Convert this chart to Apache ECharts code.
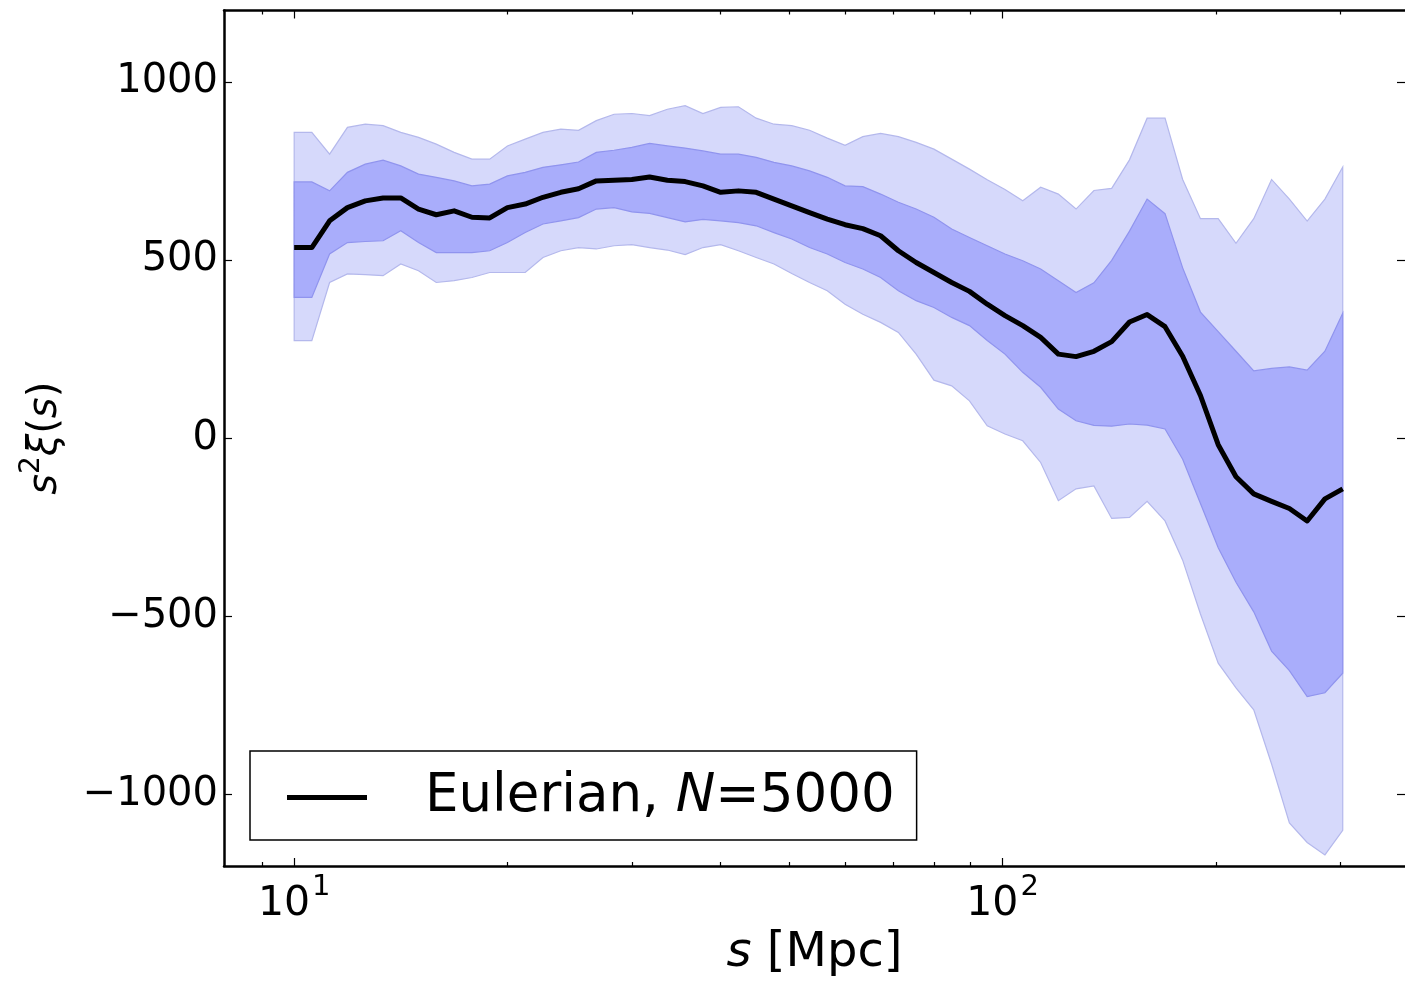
<!DOCTYPE html>
<html>
<head>
<meta charset="utf-8">
<script src="https://cdn.jsdelivr.net/npm/echarts@6/dist/echarts.min.js"></script>
<style>
html,body{margin:0;padding:0;background:#fff;}
#c{width:1405px;height:986px;}
</style>
</head>
<body>
<div id="c"></div>
<script>
// separations s [Mpc] (log-spaced bins)
const S = [10.00,10.59,11.22,11.89,12.60,13.35,14.14,14.98,15.87,16.82,
           17.82,18.88,20.00,21.19,22.45,23.79,25.20,26.70,28.29,29.97,
           31.75,33.64,35.64,37.76,40.00,42.38,44.90,47.57,50.40,53.40,
           56.57,59.94,63.50,67.28,71.28,75.52,80.01,84.77,89.81,95.15,
           100.8,106.8,113.2,119.9,127.0,134.6,142.6,151.1,160.0,169.6,
           179.6,190.3,201.6,213.6,226.3,239.8,254.1,269.2,285.2,302.2];
// mean s^2 xi(s)
const MEAN = [535,535,610,647,666,674,674,643,627,638,
              620,618,647,657,676,690,700,722,724,726,
              733,724,720,708,690,694,690,671,652,633,
              615,599,588,568,526,493,465,437,412,376,
              344,316,283,236,229,244,271,326,347,313,
              230,120,-18,-108,-156,-177,-197,-232,-170,-142];
// inner band (1 sigma)
const IN_HI = [719,719,694,746,769,780,764,741,732,722,
               708,713,736,746,760,767,775,802,808,816,
               827,820,814,806,797,797,788,774,764,750,
               732,708,706,685,662,643,620,587,563,540,
               517,498,475,442,409,436,499,581,671,630,
               478,354,299,244,189,196,200,191,244,351];
const IN_LO = [395,395,517,549,552,554,582,549,521,521,
               521,526,549,577,601,610,619,643,647,635,
               631,619,607,614,610,605,596,577,559,535,
               517,493,475,451,414,386,367,339,316,274,
               236,185,143,82,49,36,34,40,37,26,
               -59,-183,-307,-404,-487,-597,-652,-725,-714,-659];
// outer band (2 sigma)
const OUT_HI = [858,858,797,872,881,877,858,844,825,802,
                783,783,820,839,858,867,864,891,909,911,
                905,923,933,911,928,930,898,881,877,864,
                842,822,846,855,846,830,811,783,755,725,
                698,666,704,685,643,695,701,781,898,898,
                726,616,616,547,616,726,671,609,671,761];
const OUT_LO = [274,274,437,461,459,456,489,470,437,442,
                451,465,465,465,507,526,535,531,540,543,
                535,528,515,535,543,526,507,489,462,437,
                414,376,348,325,297,236,163,147,105,35,
                12,-7,-68,-175,-142,-134,-225,-222,-177,-232,
                -342,-493,-631,-700,-762,-914,-1079,-1134,-1169,-1100];

const X_MAJOR = [10, 100];
const X_MINOR = [9, 20, 30, 40, 50, 60, 70, 80, 90, 200, 300];
const Y_TICKS = [-1000, -500, 0, 500, 1000];
const SERIES_NAME = 'Eulerian, N=5000';

const FONT = 'DejaVu Sans';
const X_MIN = 7.96, X_MAX = 370;

function bandData(lo, hi) {
  return S.map((s, i) => [s, lo[i], hi[i]]);
}
function bandRender(fill, stroke) {
  return function (params, api) {
    if (params.dataIndexInside !== 0) return null;
    const n = params.dataInsideLength;
    const up = [], down = [];
    for (let i = 0; i < n; i++) {
      const s = api.value(0, i);
      up.push(api.coord([s, api.value(2, i)]));
      down.push(api.coord([s, api.value(1, i)]));
    }
    const pts = up.concat(down.reverse());
    return {
      type: 'polygon',
      shape: { points: pts },
      style: { fill: fill, stroke: stroke, lineWidth: 1.2 }
    };
  };
}

function xLabel(v) {
  const e = Math.round(Math.log10(v));
  if (Math.abs(Math.pow(10, e) - v) > 1e-6 * v) return '';
  return '{b|10}{s|' + e + '}';
}
const xRich = {
  b: { fontFamily: FONT, fontSize: 41, color: '#000', lineHeight: 63 },
  s: { fontFamily: FONT, fontSize: 29, color: '#000', verticalAlign: 'top', padding: [0, 0, 0, 2] }
};

function xAxisDef(pos, ticks, len, showLine, showLabel) {
  return {
    type: 'log', position: pos, min: X_MIN, max: X_MAX, logBase: 10,
    axisLine: { show: showLine, onZero: false, lineStyle: { color: '#000', width: 2.5 } },
    axisTick: { show: true, inside: true, length: len, customValues: ticks, lineStyle: { color: '#000', width: 1.2 } },
    minorTick: { show: false },
    axisLabel: showLabel ? {
      show: true, customValues: X_MAJOR, formatter: xLabel, margin: 7, rich: xRich
    } : { show: false },
    splitLine: { show: false },
    name: (pos === 'bottom' && showLabel) ? '{i|s}{n| [Mpc]}' : '',
    nameLocation: 'middle', nameGap: 64,
    nameTextStyle: {
      rich: {
        i: { fontFamily: FONT, fontSize: 48, fontStyle: 'italic', color: '#000' },
        n: { fontFamily: FONT, fontSize: 48, color: '#000' }
      }
    }
  };
}

function yAxisDef(pos, showLabel) {
  return {
    type: 'value', position: pos, min: -1200, max: 1200,
    axisLine: { show: showLabel, onZero: false, lineStyle: { color: '#000', width: 2.5 } },
    axisTick: { show: true, inside: true, length: 8, customValues: Y_TICKS, lineStyle: { color: '#000', width: 1.2 } },
    axisLabel: showLabel ? {
      show: true, customValues: Y_TICKS, margin: 6,
      fontFamily: FONT, fontSize: 40, color: '#000',
      formatter: v => (v < 0 ? '\u2212' + Math.abs(v) : String(v))
    } : { show: false },
    splitLine: { show: false },
    name: showLabel ? '{i|s}{p|2}{i|ξ}{n|(}{i|s}{n|)}' : '',
    nameLocation: 'middle', nameGap: 150, nameRotate: 90,
    nameTextStyle: {
      rich: {
        i: { fontFamily: FONT, fontSize: 40, fontStyle: 'italic', color: '#000', lineHeight: 56 },
        n: { fontFamily: FONT, fontSize: 40, color: '#000', lineHeight: 56 },
        p: { fontFamily: FONT, fontSize: 28, color: '#000', verticalAlign: 'top' }
      }
    }
  };
}

const chart = echarts.init(document.getElementById('c'), null, { renderer: 'canvas' });
chart.setOption({
  backgroundColor: '#fff',
  animation: false,
  grid: { left: 224, right: -4, top: 10.5, bottom: 120, containLabel: false },
  xAxis: [
    xAxisDef('bottom', X_MAJOR, 8, true, true),
    xAxisDef('bottom', X_MINOR, 4, false, false),
    xAxisDef('top', X_MAJOR, 8, true, false),
    xAxisDef('top', X_MINOR, 4, false, false)
  ],
  yAxis: [yAxisDef('left', true), yAxisDef('right', false)],
  legend: {
    left: 250, top: 751,
    orient: 'horizontal',
    backgroundColor: '#fff',
    borderColor: '#000', borderWidth: 1.5, borderRadius: 0,
    padding: [20, 22, 16, 37],
    itemWidth: 80, itemHeight: 5,
    data: [{ name: SERIES_NAME, icon: 'rect', itemStyle: { color: '#000' } }],
    formatter: () => '{a|Eulerian, }{i|N}{a|=5000}',
    textStyle: {
      rich: {
        a: { fontFamily: FONT, fontSize: 53, color: '#000' },
        i: { fontFamily: FONT, fontSize: 53, color: '#000', fontStyle: 'italic' }
      },
      padding: [0, 0, 0, 53]
    }
  },
  series: [
    {
      type: 'custom', name: 'outer', xAxisIndex: 0, yAxisIndex: 0,
      renderItem: bandRender('#d6d9fb', '#b4b8ec'),
      data: bandData(OUT_LO, OUT_HI), encode: { x: 0, y: [1, 2] }, silent: true, z: 1
    },
    {
      type: 'custom', name: 'inner', xAxisIndex: 0, yAxisIndex: 0,
      renderItem: bandRender('#a9adfb', '#9094ee'),
      data: bandData(IN_LO, IN_HI), encode: { x: 0, y: [1, 2] }, silent: true, z: 2
    },
    {
      type: 'line', name: SERIES_NAME, xAxisIndex: 0, yAxisIndex: 0,
      data: S.map((s, i) => [s, MEAN[i]]),
      symbol: 'none', z: 3,
      lineStyle: { color: '#000', width: 5, join: 'round' },
      itemStyle: { color: '#000' }
    }
  ]
});
</script>
</body>
</html>
